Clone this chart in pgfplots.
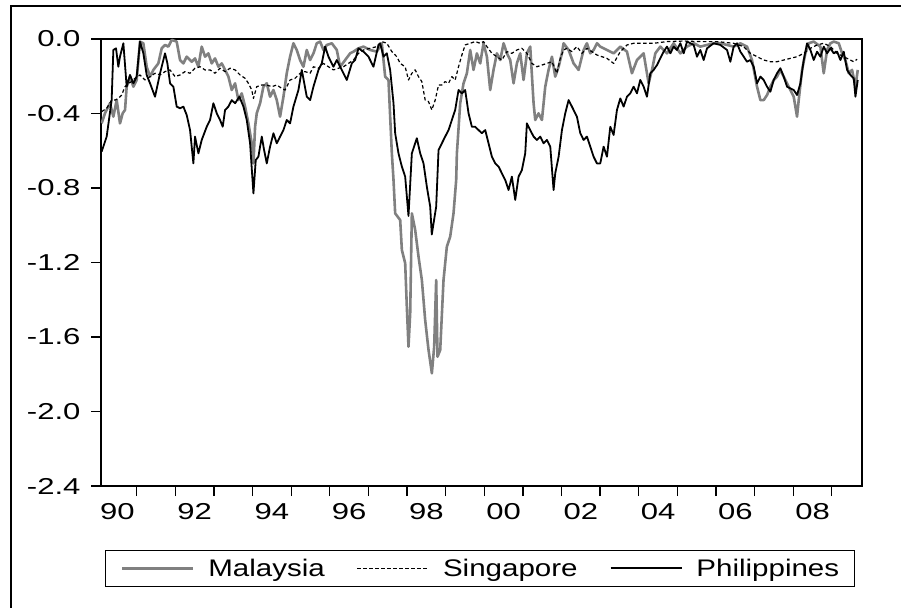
\documentclass[border=0pt]{standalone}
\usepackage{pgfplots}
\pgfplotsset{compat=1.18}
\usepackage{fontspec}
\setmainfont{Liberation Sans}[FakeStretch=1.35]
\newfontfamily\legfont{Liberation Sans}[FakeStretch=1.23]
\begin{document}
\begin{tikzpicture}
\draw[line width=1.3pt] (11pt,-10pt) -- (11pt,601pt) -- (920pt,601pt);
\begin{axis}[
  at={(101pt,121pt)}, anchor=south west,
  scale only axis, width=761pt, height=447pt,
  xmin=1990.075, xmax=2009.78, ymin=-2.4, ymax=0,
  axis line style={line width=1.3pt},
  xtick={1991,1992,...,2009},
  xticklabels={},
  extra x ticks={1990.5,1992.5,1994.5,1996.5,1998.5,2000.5,2002.5,2004.5,2006.5,2008.5},
  extra x tick labels={90,92,94,96,98,00,02,04,06,08},
  extra x tick style={xtick style={draw=none}},
  ytick={0,-0.4,-0.8,-1.2,-1.6,-2.0,-2.4},
  yticklabels={0.0,-0.4,-0.8,-1.2,-1.6,-2.0,-2.4},
  xtick pos=bottom, ytick pos=left,
  tick align=outside,
  major tick length=10pt,
  tick style={line width=1.3pt, black},
  ticklabel style={font=\fontsize{23}{27}\selectfont},
  xticklabel style={yshift=-4pt},
  yticklabel style={xshift=-7pt},
  legend columns=3,
  legend style={at={(axis description cs:0.498,-0.184)}, anchor=center,
    draw=black, line width=1.3pt, inner xsep=15pt, inner ysep=8.5pt,
    font=\legfont\fontsize{24}{28}\selectfont,
    nodes={inner sep=0pt},
    /tikz/every odd column/.append style={column sep=14pt},
    /tikz/every even column/.append style={column sep=32pt}},
  legend image code/.code={\draw[#1] (0pt,0pt) -- (71pt,0pt);},
  every axis plot/.append style={line join=round},
]
\addplot[color=black!50, line width=2.6pt] coordinates {
(1990.092,-0.453)(1990.179,-0.399)(1990.308,-0.345)(1990.395,-0.417)(1990.481,-0.328)(1990.567,-0.453)(1990.636,-0.399)(1990.697,-0.381)(1990.740,-0.256)(1990.826,-0.202)(1990.913,-0.256)(1990.999,-0.220)(1991.085,-0.014)(1991.172,-0.023)(1991.258,-0.149)(1991.345,-0.202)(1991.431,-0.166)(1991.560,-0.131)(1991.647,-0.050)(1991.733,-0.032)(1991.820,-0.041)(1991.906,-0.005)(1992.035,-0.014)(1992.122,-0.113)(1992.208,-0.131)(1992.294,-0.095)(1992.424,-0.122)(1992.510,-0.104)(1992.597,-0.149)(1992.683,-0.041)(1992.769,-0.095)(1992.856,-0.077)(1992.942,-0.131)(1993.028,-0.104)(1993.115,-0.149)(1993.201,-0.131)(1993.288,-0.166)(1993.374,-0.202)(1993.460,-0.274)(1993.547,-0.238)(1993.633,-0.328)(1993.719,-0.292)(1993.806,-0.363)(1993.892,-0.453)(1993.979,-0.560)(1994.022,-0.668)(1994.065,-0.471)(1994.108,-0.399)(1994.194,-0.345)(1994.281,-0.256)(1994.367,-0.238)(1994.453,-0.310)(1994.540,-0.274)(1994.626,-0.328)(1994.712,-0.417)(1994.799,-0.310)(1994.885,-0.184)(1994.971,-0.095)(1995.058,-0.023)(1995.144,-0.059)(1995.230,-0.113)(1995.317,-0.149)(1995.403,-0.059)(1995.490,-0.113)(1995.576,-0.077)(1995.662,-0.023)(1995.749,-0.014)(1995.835,-0.059)(1995.922,-0.032)(1996.051,-0.023)(1996.181,-0.059)(1996.267,-0.149)(1996.397,-0.113)(1996.526,-0.077)(1996.612,-0.068)(1996.742,-0.050)(1996.871,-0.041)(1997.044,-0.059)(1997.217,-0.068)(1997.346,-0.023)(1997.433,-0.202)(1997.519,-0.220)(1997.606,-0.614)(1997.649,-0.757)(1997.692,-0.936)(1997.822,-0.972)(1997.865,-1.132)(1997.951,-1.204)(1997.994,-1.437)(1998.037,-1.652)(1998.081,-1.473)(1998.124,-0.936)(1998.210,-1.025)(1998.297,-1.169)(1998.383,-1.294)(1998.469,-1.509)(1998.556,-1.670)(1998.642,-1.795)(1998.702,-1.652)(1998.754,-1.294)(1998.789,-1.706)(1998.858,-1.670)(1998.944,-1.294)(1999.030,-1.115)(1999.117,-1.061)(1999.203,-0.936)(1999.272,-0.757)(1999.290,-0.614)(1999.376,-0.345)(1999.462,-0.238)(1999.549,-0.184)(1999.635,-0.059)(1999.721,-0.166)(1999.808,-0.077)(1999.894,-0.131)(1999.980,-0.023)(2000.067,-0.095)(2000.153,-0.274)(2000.239,-0.166)(2000.326,-0.077)(2000.412,-0.113)(2000.499,-0.023)(2000.585,-0.077)(2000.671,-0.113)(2000.758,-0.238)(2000.844,-0.131)(2000.930,-0.077)(2001.017,-0.220)(2001.103,-0.077)(2001.189,-0.041)(2001.276,-0.345)(2001.319,-0.435)(2001.405,-0.399)(2001.492,-0.435)(2001.578,-0.256)(2001.664,-0.166)(2001.751,-0.095)(2001.837,-0.202)(2001.924,-0.149)(2002.010,-0.077)(2002.053,-0.023)(2002.183,-0.059)(2002.312,-0.131)(2002.442,-0.166)(2002.571,-0.059)(2002.657,-0.023)(2002.744,-0.077)(2002.830,-0.059)(2002.917,-0.023)(2003.003,-0.041)(2003.176,-0.059)(2003.348,-0.077)(2003.521,-0.041)(2003.694,-0.068)(2003.823,-0.184)(2003.953,-0.113)(2004.126,-0.077)(2004.255,-0.238)(2004.342,-0.166)(2004.428,-0.077)(2004.557,-0.041)(2004.730,-0.077)(2004.903,-0.023)(2005.076,-0.077)(2005.248,-0.041)(2005.421,-0.023)(2005.594,-0.041)(2005.767,-0.032)(2005.939,-0.023)(2006.112,-0.023)(2006.285,-0.032)(2006.457,-0.041)(2006.630,-0.023)(2006.803,-0.041)(2006.932,-0.113)(2007.062,-0.256)(2007.148,-0.328)(2007.235,-0.328)(2007.321,-0.301)(2007.407,-0.256)(2007.494,-0.220)(2007.580,-0.202)(2007.666,-0.166)(2007.796,-0.220)(2007.926,-0.274)(2008.012,-0.310)(2008.098,-0.417)(2008.141,-0.328)(2008.228,-0.166)(2008.314,-0.077)(2008.401,-0.023)(2008.530,-0.014)(2008.703,-0.041)(2008.789,-0.184)(2008.875,-0.059)(2008.962,-0.023)(2009.048,-0.014)(2009.178,-0.023)(2009.264,-0.077)(2009.350,-0.113)(2009.437,-0.184)(2009.523,-0.166)(2009.610,-0.256)(2009.670,-0.166)
};
\addlegendentry{Malaysia}
\addplot[color=black, line width=1.2pt, dash pattern=on 3.5pt off 2.5pt] coordinates {
(1990.092,-0.390)(1990.222,-0.372)(1990.351,-0.328)(1990.438,-0.328)(1990.524,-0.319)(1990.610,-0.301)(1990.697,-0.256)(1990.783,-0.238)(1990.870,-0.229)(1990.956,-0.211)(1991.085,-0.193)(1991.215,-0.220)(1991.345,-0.202)(1991.474,-0.184)(1991.604,-0.193)(1991.733,-0.175)(1991.863,-0.166)(1991.992,-0.202)(1992.122,-0.193)(1992.251,-0.175)(1992.381,-0.184)(1992.510,-0.157)(1992.640,-0.149)(1992.769,-0.166)(1992.899,-0.166)(1993.028,-0.184)(1993.158,-0.157)(1993.288,-0.175)(1993.417,-0.157)(1993.547,-0.166)(1993.676,-0.193)(1993.806,-0.211)(1993.892,-0.238)(1993.979,-0.274)(1994.022,-0.319)(1994.108,-0.256)(1994.238,-0.247)(1994.367,-0.247)(1994.497,-0.256)(1994.626,-0.247)(1994.756,-0.265)(1994.842,-0.274)(1994.971,-0.220)(1995.101,-0.211)(1995.230,-0.184)(1995.360,-0.175)(1995.490,-0.184)(1995.576,-0.149)(1995.706,-0.157)(1995.835,-0.131)(1995.965,-0.149)(1996.094,-0.166)(1996.224,-0.157)(1996.353,-0.149)(1996.483,-0.131)(1996.612,-0.113)(1996.742,-0.077)(1996.871,-0.059)(1997.044,-0.050)(1997.217,-0.041)(1997.346,-0.014)(1997.476,-0.023)(1997.606,-0.068)(1997.735,-0.095)(1997.821,-0.131)(1997.951,-0.149)(1998.037,-0.220)(1998.124,-0.184)(1998.210,-0.166)(1998.296,-0.202)(1998.383,-0.229)(1998.469,-0.328)(1998.555,-0.336)(1998.642,-0.381)(1998.728,-0.328)(1998.815,-0.247)(1998.901,-0.247)(1998.987,-0.229)(1999.074,-0.238)(1999.160,-0.202)(1999.246,-0.220)(1999.333,-0.149)(1999.419,-0.086)(1999.505,-0.032)(1999.635,-0.023)(1999.764,-0.014)(1999.894,-0.023)(1999.980,-0.014)(2000.067,-0.041)(2000.196,-0.077)(2000.326,-0.095)(2000.455,-0.113)(2000.585,-0.068)(2000.714,-0.077)(2000.844,-0.059)(2000.974,-0.050)(2001.103,-0.077)(2001.233,-0.131)(2001.362,-0.149)(2001.492,-0.140)(2001.621,-0.131)(2001.751,-0.122)(2001.880,-0.184)(2001.967,-0.104)(2002.053,-0.059)(2002.139,-0.050)(2002.269,-0.068)(2002.398,-0.041)(2002.528,-0.077)(2002.657,-0.050)(2002.787,-0.068)(2002.917,-0.086)(2003.046,-0.095)(2003.176,-0.104)(2003.349,-0.131)(2003.521,-0.068)(2003.694,-0.032)(2003.867,-0.023)(2004.126,-0.023)(2004.385,-0.023)(2004.730,-0.014)(2005.162,-0.011)(2005.594,-0.014)(2006.025,-0.014)(2006.457,-0.023)(2006.717,-0.041)(2006.889,-0.077)(2007.062,-0.095)(2007.235,-0.113)(2007.407,-0.122)(2007.580,-0.122)(2007.753,-0.113)(2007.926,-0.104)(2008.098,-0.095)(2008.271,-0.077)(2008.444,-0.050)(2008.616,-0.032)(2008.789,-0.023)(2008.962,-0.041)(2009.135,-0.077)(2009.307,-0.095)(2009.480,-0.113)(2009.566,-0.122)(2009.653,-0.109)
};
\addlegendentry{Singapore}
\addplot[color=black, line width=1.8pt] coordinates {
(1990.092,-0.605)(1990.222,-0.524)(1990.351,-0.328)(1990.395,-0.059)(1990.464,-0.050)(1990.524,-0.149)(1990.567,-0.095)(1990.654,-0.023)(1990.740,-0.256)(1990.826,-0.193)(1990.913,-0.238)(1990.999,-0.202)(1991.085,-0.014)(1991.172,-0.077)(1991.258,-0.193)(1991.345,-0.238)(1991.474,-0.310)(1991.604,-0.184)(1991.733,-0.077)(1991.794,-0.131)(1991.863,-0.238)(1991.949,-0.256)(1992.035,-0.363)(1992.122,-0.372)(1992.208,-0.363)(1992.294,-0.408)(1992.381,-0.489)(1992.467,-0.668)(1992.510,-0.524)(1992.597,-0.614)(1992.683,-0.542)(1992.813,-0.471)(1992.899,-0.435)(1992.985,-0.345)(1993.072,-0.399)(1993.158,-0.435)(1993.227,-0.471)(1993.288,-0.381)(1993.374,-0.363)(1993.460,-0.328)(1993.547,-0.345)(1993.659,-0.310)(1993.763,-0.363)(1993.849,-0.435)(1993.935,-0.560)(1994.022,-0.829)(1994.082,-0.650)(1994.151,-0.632)(1994.238,-0.524)(1994.298,-0.596)(1994.367,-0.668)(1994.453,-0.578)(1994.540,-0.506)(1994.626,-0.560)(1994.712,-0.524)(1994.799,-0.489)(1994.885,-0.435)(1994.971,-0.453)(1995.058,-0.363)(1995.187,-0.274)(1995.274,-0.166)(1995.403,-0.310)(1995.490,-0.328)(1995.576,-0.256)(1995.706,-0.166)(1995.792,-0.131)(1995.878,-0.041)(1995.965,-0.095)(1996.094,-0.149)(1996.181,-0.113)(1996.310,-0.166)(1996.440,-0.220)(1996.569,-0.131)(1996.655,-0.113)(1996.742,-0.050)(1996.871,-0.068)(1997.001,-0.095)(1997.130,-0.149)(1997.260,-0.032)(1997.303,-0.023)(1997.390,-0.095)(1997.476,-0.077)(1997.562,-0.166)(1997.649,-0.345)(1997.692,-0.506)(1997.778,-0.614)(1997.865,-0.685)(1997.951,-0.739)(1998.037,-0.950)(1998.124,-0.614)(1998.210,-0.560)(1998.253,-0.533)(1998.340,-0.614)(1998.426,-0.668)(1998.512,-0.793)(1998.599,-0.900)(1998.640,-1.050)(1998.754,-0.900)(1998.815,-0.596)(1998.901,-0.560)(1998.987,-0.524)(1999.074,-0.489)(1999.160,-0.435)(1999.246,-0.381)(1999.333,-0.274)(1999.419,-0.292)(1999.505,-0.274)(1999.592,-0.399)(1999.678,-0.471)(1999.764,-0.471)(1999.851,-0.489)(1999.937,-0.506)(2000.024,-0.489)(2000.110,-0.560)(2000.196,-0.632)(2000.283,-0.668)(2000.369,-0.685)(2000.455,-0.721)(2000.542,-0.757)(2000.628,-0.811)(2000.714,-0.739)(2000.801,-0.864)(2000.887,-0.739)(2000.974,-0.703)(2001.060,-0.614)(2001.103,-0.453)(2001.189,-0.489)(2001.276,-0.524)(2001.362,-0.542)(2001.449,-0.524)(2001.535,-0.560)(2001.621,-0.542)(2001.708,-0.578)(2001.794,-0.811)(2001.837,-0.721)(2001.924,-0.632)(2002.010,-0.489)(2002.096,-0.399)(2002.183,-0.328)(2002.269,-0.363)(2002.398,-0.417)(2002.485,-0.506)(2002.571,-0.542)(2002.657,-0.524)(2002.744,-0.578)(2002.830,-0.632)(2002.917,-0.668)(2003.003,-0.668)(2003.089,-0.578)(2003.176,-0.632)(2003.262,-0.471)(2003.348,-0.515)(2003.435,-0.381)(2003.521,-0.319)(2003.608,-0.363)(2003.694,-0.310)(2003.780,-0.292)(2003.867,-0.256)(2003.953,-0.292)(2004.039,-0.220)(2004.126,-0.256)(2004.212,-0.310)(2004.298,-0.184)(2004.385,-0.166)(2004.471,-0.140)(2004.557,-0.104)(2004.644,-0.068)(2004.730,-0.041)(2004.817,-0.077)(2004.903,-0.041)(2004.989,-0.059)(2005.076,-0.023)(2005.162,-0.077)(2005.248,-0.014)(2005.335,-0.023)(2005.421,-0.032)(2005.507,-0.095)(2005.594,-0.059)(2005.680,-0.113)(2005.767,-0.050)(2005.939,-0.023)(2006.112,-0.032)(2006.285,-0.059)(2006.371,-0.122)(2006.457,-0.041)(2006.544,-0.023)(2006.630,-0.068)(2006.717,-0.095)(2006.803,-0.122)(2006.889,-0.113)(2006.976,-0.149)(2007.062,-0.238)(2007.148,-0.202)(2007.235,-0.220)(2007.321,-0.256)(2007.407,-0.283)(2007.494,-0.220)(2007.580,-0.184)(2007.666,-0.157)(2007.753,-0.202)(2007.839,-0.256)(2007.926,-0.265)(2008.012,-0.274)(2008.098,-0.301)(2008.185,-0.238)(2008.271,-0.113)(2008.357,-0.023)(2008.444,-0.059)(2008.530,-0.113)(2008.616,-0.068)(2008.703,-0.095)(2008.789,-0.041)(2008.875,-0.077)(2008.962,-0.050)(2009.048,-0.077)(2009.135,-0.068)(2009.221,-0.113)(2009.307,-0.068)(2009.394,-0.166)(2009.480,-0.193)(2009.566,-0.211)(2009.610,-0.310)(2009.670,-0.220)
};
\addlegendentry{Philippines}
\end{axis}
\pgfresetboundingbox
\path[use as bounding box] (0pt,0pt) rectangle (901pt,607pt);
\end{tikzpicture}
\end{document}
